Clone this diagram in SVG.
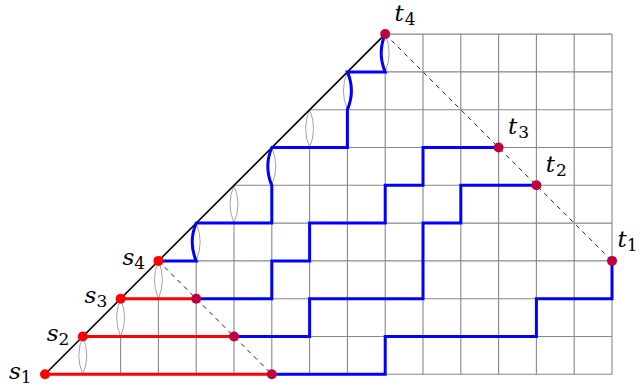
<svg xmlns="http://www.w3.org/2000/svg" width="640" height="389" viewBox="0 0 640 389">
<style>
.grid{stroke:#888;stroke-width:1.1;fill:none}
.lens{stroke:#999;stroke-width:0.9;fill:none}
.diag{stroke:#000;stroke-width:1.6;fill:none}
.dash{stroke:#000;stroke-width:0.9;stroke-dasharray:4.5 4.5;fill:none}
.red{stroke:#ff0000;stroke-width:3;fill:none}
.blue{stroke:#0000ff;stroke-width:3;fill:none;stroke-linejoin:miter}
.sdot{fill:#ff0000}
.tdot{fill:#bf0040}
</style>
<rect width="640" height="389" fill="#fff"/>
<g id="grid">
<path class="grid" d="M45,374.3H612M82.8,336.5H612M120.6,298.7H612M158.4,260.9H612M196.2,223.1H612M234,185.3H612M271.8,147.5H612M309.6,109.7H612M347.4,71.9H612M385.2,34.1H612"/>
<path class="grid" d="M120.6,374.3V336.5M158.4,374.3V298.7M196.2,374.3V260.9M234,374.3V223.1M271.8,374.3V185.3M309.6,374.3V147.5M347.4,374.3V109.7M385.2,374.3V71.9M423,374.3V34.1M460.8,374.3V34.1M498.6,374.3V34.1M536.4,374.3V34.1M574.2,374.3V34.1M612,374.3V34.1"/>
<path class="lens" d="M82.8,374.3Q74.8,355.4 82.8,336.5Q90.8,355.4 82.8,374.3M120.6,336.5Q112.6,317.6 120.6,298.7Q128.6,317.6 120.6,336.5M158.4,298.7Q150.4,279.8 158.4,260.9Q166.4,279.8 158.4,298.7M196.2,260.9Q188.2,242 196.2,223.1Q204.2,242 196.2,260.9M234,223.1Q226,204.2 234,185.3Q242,204.2 234,223.1M271.8,185.3Q263.8,166.4 271.8,147.5Q279.8,166.4 271.8,185.3M309.6,147.5Q301.6,128.6 309.6,109.7Q317.6,128.6 309.6,147.5M347.4,109.7Q339.4,90.8 347.4,71.9Q355.4,90.8 347.4,109.7M385.2,71.9Q377.2,53 385.2,34.1Q393.2,53 385.2,71.9"/>
</g>
<g id="connectors">
<path class="diag" d="M45,374.3L385.2,34.1"/>
<path class="dash" d="M158.4,260.9L271.8,374.3M385.2,34.1L612,260.9"/>
<path class="red" d="M45,374.3H271.8M82.8,336.5H234M120.6,298.7H196.2"/>
<path class="blue" d="M158.4,260.9H196.2Q188.2,242 196.2,223.1H271.8V185.3Q263.8,166.4 271.8,147.5H347.4V109.7Q355.4,90.8 347.4,71.9H385.2Q377.2,53 385.2,34.1"/>
<path class="blue" d="M196.2,298.7H271.8V260.9H309.6V223.1H385.2V185.3H423V147.5H498.6"/>
<path class="blue" d="M234,336.5H309.6V298.7H423V223.1H460.8V185.3H536.4"/>
<path class="blue" d="M271.8,374.3H385.2V336.5H536.4V298.7H612V260.9"/>
</g>
<g font-family="DejaVu Serif, Liberation Serif, serif" font-size="23" font-style="italic" fill="#000">
<g id="s1"><circle class="sdot" cx="45" cy="374.3" r="5"/><text x="9" y="378.5">s<tspan font-style="normal" font-size="17" dx="0" dy="4.5">1</tspan></text></g>
<g id="s2"><circle class="sdot" cx="82.8" cy="336.5" r="5"/><text x="46.8" y="340.5">s<tspan font-style="normal" font-size="17" dx="0" dy="4.5">2</tspan></text></g>
<g id="s3"><circle class="sdot" cx="120.6" cy="298.7" r="5"/><text x="84.6" y="302.7">s<tspan font-style="normal" font-size="17" dx="0" dy="4.5">3</tspan></text></g>
<g id="s4"><circle class="sdot" cx="158.4" cy="260.9" r="5"/><text x="122.4" y="264.9">s<tspan font-style="normal" font-size="17" dx="0" dy="4.5">4</tspan></text></g>
<g id="m1"><circle class="tdot" cx="271.8" cy="374.3" r="5"/></g>
<g id="m2"><circle class="tdot" cx="234" cy="336.5" r="5"/></g>
<g id="m3"><circle class="tdot" cx="196.2" cy="298.7" r="5"/></g>
<g id="t4"><circle class="tdot" cx="385.2" cy="34.1" r="5"/><text x="394.5" y="20.6">t<tspan font-style="normal" font-size="17" dx="1" dy="4">4</tspan></text></g>
<g id="t3"><circle class="tdot" cx="498.6" cy="147.5" r="5"/><text x="507.9" y="134">t<tspan font-style="normal" font-size="17" dx="1" dy="4">3</tspan></text></g>
<g id="t2"><circle class="tdot" cx="536.4" cy="185.3" r="5"/><text x="545.7" y="171.8">t<tspan font-style="normal" font-size="17" dx="1" dy="4">2</tspan></text></g>
<g id="t1"><circle class="tdot" cx="612" cy="260.9" r="5"/><text x="617.5" y="247.4">t<tspan font-style="normal" font-size="17" dx="0" dy="4">1</tspan></text></g>
</g>
</svg>
